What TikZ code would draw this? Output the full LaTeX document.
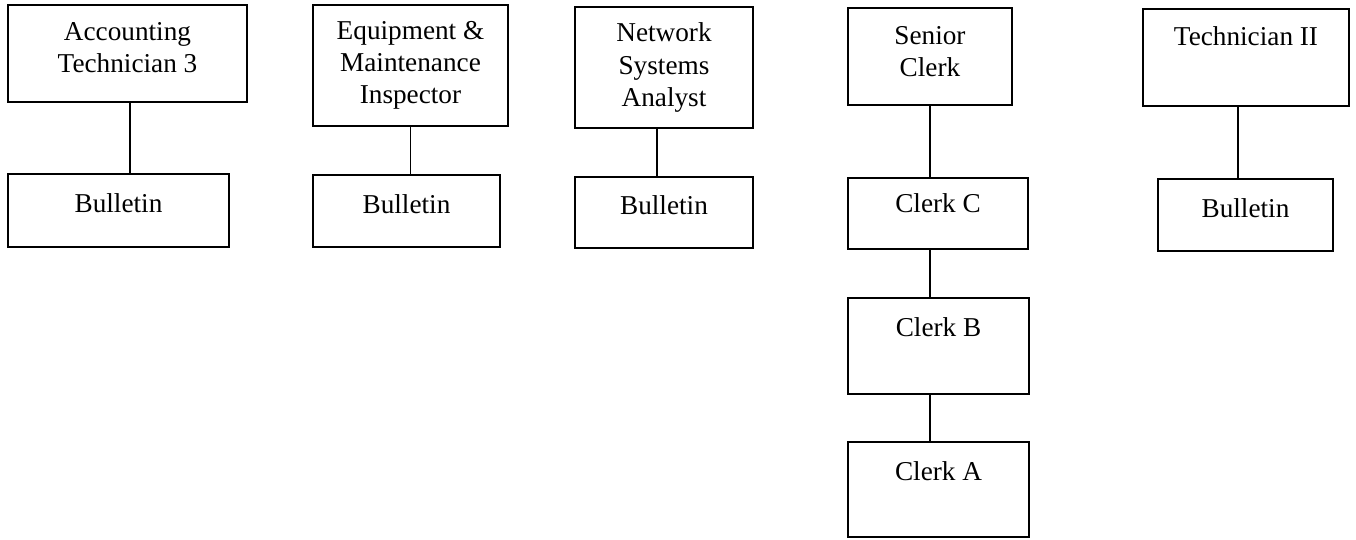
\documentclass[tikz,border=0pt]{standalone}
\usepackage{fontspec}
\setmainfont{Liberation Serif}
\usetikzlibrary{calc, positioning}

\begin{document}
\begin{tikzpicture}[
    job/.style={draw, line width=0.6pt, rectangle, align=center, inner sep=0pt,
                font=\fontsize{15.5}{18.3}\selectfont},
    link/.style={line width=0.6pt}
]
\useasboundingbox (0,0) rectangle (27.12,10.8);

% Top row
\node[job, minimum width=4.78cm, minimum height=1.94cm, text depth=0.24cm] (acc) at (2.55,9.73) {Accounting\\Technician 3};
\node[job, minimum width=3.90cm, minimum height=2.42cm] (eq) at (8.21,9.49) {Equipment \&\\Maintenance\\Inspector};
\node[job, minimum width=3.56cm, minimum height=2.42cm] (net) at (13.28,9.45) {Network\\Systems\\Analyst};
\node[job, minimum width=3.28cm, minimum height=1.94cm, text depth=0.20cm] (sen) at (18.60,9.67) {Senior\\Clerk};
\node[job, minimum width=4.12cm, minimum height=1.94cm, text depth=0.86cm] (tec) at (24.92,9.65) {Technician II};

% Second row
\node[job, minimum width=4.42cm, minimum height=1.46cm, text depth=0.28cm] (accB) at (2.37,6.59) {Bulletin};
\node[job, minimum width=3.74cm, minimum height=1.44cm, text depth=0.28cm] (eqB) at (8.13,6.58) {Bulletin};
\node[job, minimum width=3.56cm, minimum height=1.42cm, text depth=0.28cm] (netB) at (13.28,6.55) {Bulletin};
\node[job, minimum width=3.60cm, minimum height=1.42cm, text depth=0.40cm] (clkC) at (18.76,6.53) {Clerk C};
\node[job, minimum width=3.50cm, minimum height=1.44cm, text depth=0.26cm] (tecB) at (24.91,6.50) {Bulletin};

% Clerk chain
\node[job, minimum width=3.62cm, minimum height=1.92cm, text depth=0.76cm] (clkB) at (18.77,3.88) {Clerk B};
\node[job, minimum width=3.62cm, minimum height=1.90cm, text depth=0.72cm] (clkA) at (18.77,1.01) {Clerk A};

% Connectors
\draw[link] ([xshift=0.05cm]acc.south) -- ([xshift=0.05cm]acc.south |- accB.north);
\draw[link] (eq.south) -- (eq.south |- eqB.north);
\draw[link] ([xshift=-0.14cm]net.south) -- ([xshift=-0.14cm]netB.north);
\draw[link] (sen.south) -- (sen.south |- clkC.north);
\draw[link] (sen.south |- clkC.south) -- (sen.south |- clkB.north);
\draw[link] (sen.south |- clkB.south) -- (sen.south |- clkA.north);
\draw[link] ([xshift=-0.16cm]tec.south) -- ([xshift=-0.16cm]tec.south |- tecB.north);
\end{tikzpicture}
\end{document}
